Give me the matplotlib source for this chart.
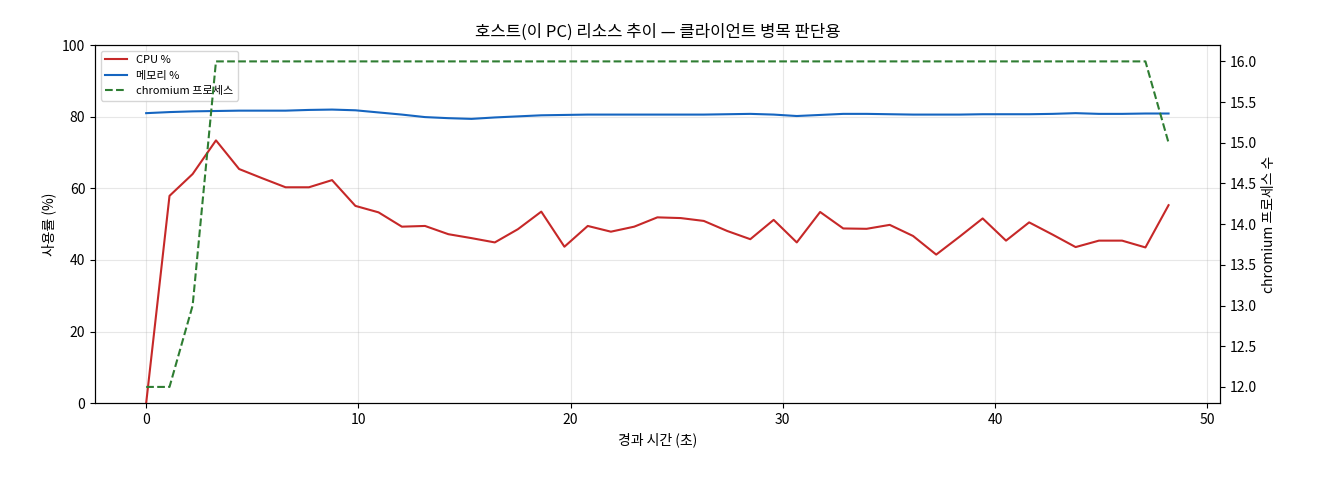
import matplotlib
matplotlib.use("Agg")
import matplotlib.pyplot as plt

plt.rcParams['font.family'] = ['Noto Sans CJK KR', 'DejaVu Sans']

# elapsed seconds
t = [0.0, 1.1, 2.19, 3.29, 4.38, 5.48, 6.57, 7.67, 8.76, 9.86, 10.95, 12.05, 13.14,
     14.24, 15.33, 16.43, 17.52, 18.62, 19.71, 20.81, 21.9, 23.0, 24.09, 25.19,
     26.28, 27.38, 28.47, 29.57, 30.66, 31.76, 32.85, 33.95, 35.04, 36.14, 37.23,
     38.33, 39.42, 40.52, 41.61, 42.71, 43.8, 44.9, 45.99, 47.09, 48.18]
cpu = [0, 57.9, 64.0, 73.4, 65.4, 62.8, 60.3, 60.3, 62.3, 55.1, 53.3, 49.3, 49.5,
       47.2, 46.1, 44.9, 48.6, 53.5, 43.7, 49.5, 47.9, 49.3, 51.9, 51.7, 50.9,
       48.1, 45.8, 51.2, 44.9, 53.4, 48.8, 48.7, 49.8, 46.7, 41.5, 46.5, 51.6,
       45.4, 50.5, 47.1, 43.6, 45.4, 45.4, 43.5, 55.3]
mem = [81.0, 81.3, 81.5, 81.6, 81.7, 81.7, 81.7, 81.9, 82.0, 81.8, 81.2, 80.6, 79.9,
       79.6, 79.4, 79.8, 80.1, 80.4, 80.5, 80.6, 80.6, 80.6, 80.6, 80.6, 80.6,
       80.7, 80.8, 80.6, 80.2, 80.5, 80.8, 80.8, 80.7, 80.6, 80.6, 80.6, 80.7,
       80.7, 80.7, 80.8, 81.0, 80.8, 80.8, 80.9, 80.9]
chrome = [12, 12, 13, 16, 16, 16, 16, 16, 16, 16, 16, 16, 16, 16, 16, 16, 16, 16,
          16, 16, 16, 16, 16, 16, 16, 16, 16, 16, 16, 16, 16, 16, 16, 16, 16, 16,
          16, 16, 16, 16, 16, 16, 16, 16, 15]

fig, ax = plt.subplots(figsize=(13.2, 4.8), dpi=100)
fig.subplots_adjust(left=0.072, right=0.924, top=0.906, bottom=0.16)

l1, = ax.plot(t, cpu, color='#c62828', lw=1.5, label='CPU %')
l2, = ax.plot(t, mem, color='#1565c0', lw=1.5, label='메모리 %')
ax.set_ylim(0, 100)
ax.set_xlabel('경과 시간 (초)')
ax.set_ylabel('사용률 (%)')
ax.grid(True, alpha=0.3)

ax2 = ax.twinx()
l3, = ax2.plot(t, chrome, color='#2e7d32', lw=1.5, ls='--', label='chromium 프로세스')
ax2.set_ylabel('chromium 프로세스 수')

ax.legend(handles=[l1, l2, l3], loc='upper left', fontsize=8)
ax.set_title('호스트(이 PC) 리소스 추이 — 클라이언트 병목 판단용')

plt.savefig('out.png')
